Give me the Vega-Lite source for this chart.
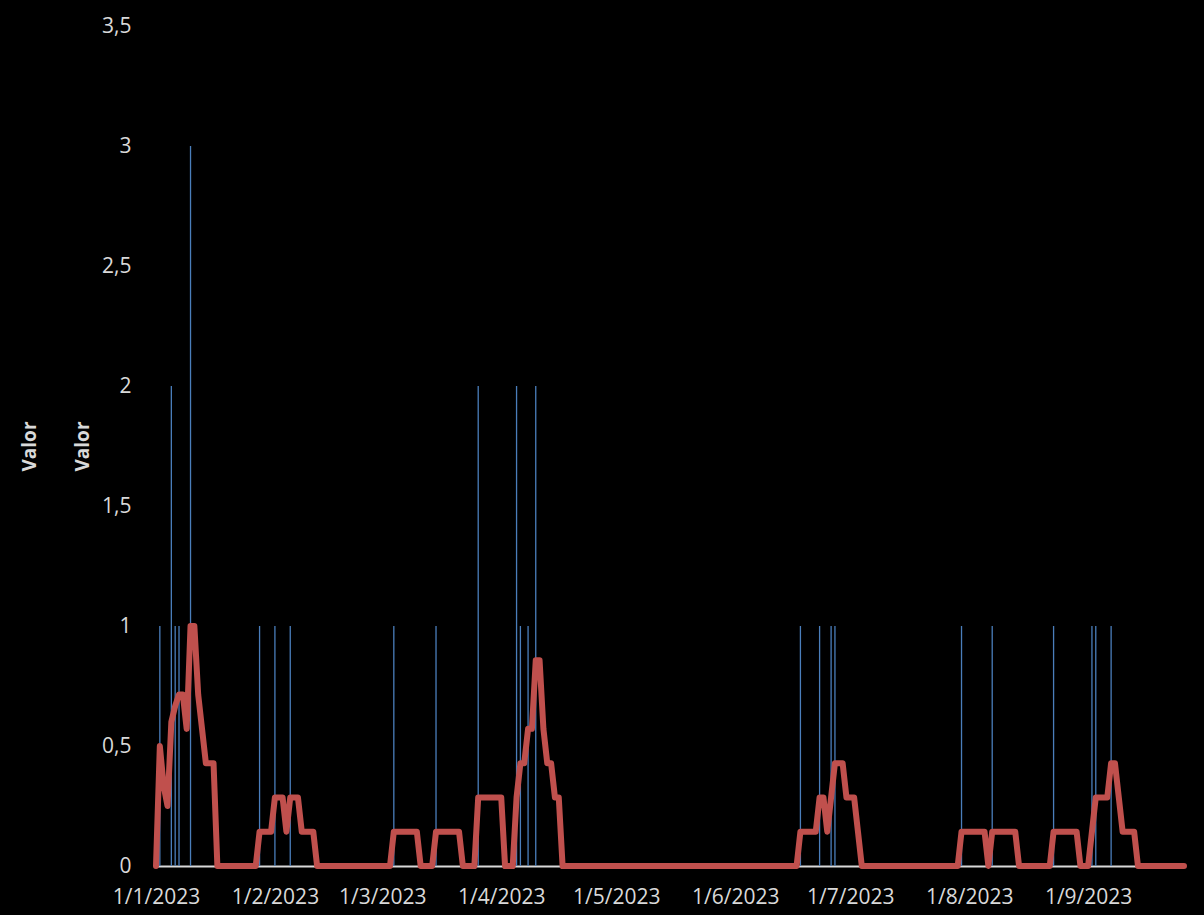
{
  "$schema": "https://vega.github.io/schema/vega-lite/v6.json",
  "background": "black",
  "autosize": {"type": "none"},
  "padding": {"left": 156, "top": 26, "right": 20, "bottom": 49},
  "width": 1028,
  "height": 840,
  "config": {
    "view": {"stroke": null},
    "font": "Open Sans",
    "axis": {"grid": false, "ticks": false, "tickSize": 0, "labelColor": "#d9d9d9", "labelFont": "Open Sans", "labelFontSize": 21, "titleColor": "#d9d9d9", "titleFont": "Open Sans", "titleFontSize": 19, "titleFontWeight": "bold"}
  },
  "datasets": {
    "spikes": [
      {"d": "2023-01-02", "v": 1},
      {"d": "2023-01-05", "v": 2},
      {"d": "2023-01-06", "v": 1},
      {"d": "2023-01-07", "v": 1},
      {"d": "2023-01-10", "v": 3},
      {"d": "2023-01-28", "v": 1},
      {"d": "2023-02-01", "v": 1},
      {"d": "2023-02-05", "v": 1},
      {"d": "2023-03-04", "v": 1},
      {"d": "2023-03-15", "v": 1},
      {"d": "2023-03-26", "v": 2},
      {"d": "2023-04-05", "v": 2},
      {"d": "2023-04-06", "v": 1},
      {"d": "2023-04-08", "v": 1},
      {"d": "2023-04-10", "v": 2},
      {"d": "2023-06-18", "v": 1},
      {"d": "2023-06-23", "v": 1},
      {"d": "2023-06-26", "v": 1},
      {"d": "2023-06-27", "v": 1},
      {"d": "2023-07-30", "v": 1},
      {"d": "2023-08-07", "v": 1},
      {"d": "2023-08-23", "v": 1},
      {"d": "2023-09-02", "v": 1},
      {"d": "2023-09-03", "v": 1},
      {"d": "2023-09-07", "v": 1}
    ],
    "media": [
      {"d":"2023-01-01","m":0},{"d":"2023-01-02","m":0.5},{"d":"2023-01-03","m":0.3333},{"d":"2023-01-04","m":0.25},{"d":"2023-01-05","m":0.6},{"d":"2023-01-06","m":0.6667},{"d":"2023-01-07","m":0.7143},{"d":"2023-01-08","m":0.7143},{"d":"2023-01-09","m":0.5714},{"d":"2023-01-10","m":1},{"d":"2023-01-11","m":1},{"d":"2023-01-12","m":0.7143},{"d":"2023-01-13","m":0.5714},{"d":"2023-01-14","m":0.4286},{"d":"2023-01-15","m":0.4286},{"d":"2023-01-16","m":0.4286},
      {"d":"2023-01-17","m":0},{"d":"2023-01-18","m":0},{"d":"2023-01-19","m":0},{"d":"2023-01-20","m":0},{"d":"2023-01-21","m":0},{"d":"2023-01-22","m":0},{"d":"2023-01-23","m":0},{"d":"2023-01-24","m":0},{"d":"2023-01-25","m":0},{"d":"2023-01-26","m":0},{"d":"2023-01-27","m":0},
      {"d":"2023-01-28","m":0.1429},{"d":"2023-01-29","m":0.1429},{"d":"2023-01-30","m":0.1429},{"d":"2023-01-31","m":0.1429},
      {"d":"2023-02-01","m":0.2857},{"d":"2023-02-02","m":0.2857},{"d":"2023-02-03","m":0.2857},{"d":"2023-02-04","m":0.1429},{"d":"2023-02-05","m":0.2857},{"d":"2023-02-06","m":0.2857},{"d":"2023-02-07","m":0.2857},{"d":"2023-02-08","m":0.1429},{"d":"2023-02-09","m":0.1429},{"d":"2023-02-10","m":0.1429},{"d":"2023-02-11","m":0.1429},
      {"d":"2023-02-12","m":0},{"d":"2023-02-13","m":0},{"d":"2023-02-14","m":0},{"d":"2023-02-15","m":0},{"d":"2023-02-16","m":0},{"d":"2023-02-17","m":0},{"d":"2023-02-18","m":0},{"d":"2023-02-19","m":0},{"d":"2023-02-20","m":0},{"d":"2023-02-21","m":0},{"d":"2023-02-22","m":0},{"d":"2023-02-23","m":0},{"d":"2023-02-24","m":0},{"d":"2023-02-25","m":0},{"d":"2023-02-26","m":0},{"d":"2023-02-27","m":0},{"d":"2023-02-28","m":0},
      {"d":"2023-03-01","m":0},{"d":"2023-03-02","m":0},{"d":"2023-03-03","m":0},
      {"d":"2023-03-04","m":0.1429},{"d":"2023-03-05","m":0.1429},{"d":"2023-03-06","m":0.1429},{"d":"2023-03-07","m":0.1429},{"d":"2023-03-08","m":0.1429},{"d":"2023-03-09","m":0.1429},{"d":"2023-03-10","m":0.1429},
      {"d":"2023-03-11","m":0},{"d":"2023-03-12","m":0},{"d":"2023-03-13","m":0},{"d":"2023-03-14","m":0},
      {"d":"2023-03-15","m":0.1429},{"d":"2023-03-16","m":0.1429},{"d":"2023-03-17","m":0.1429},{"d":"2023-03-18","m":0.1429},{"d":"2023-03-19","m":0.1429},{"d":"2023-03-20","m":0.1429},{"d":"2023-03-21","m":0.1429},
      {"d":"2023-03-22","m":0},{"d":"2023-03-23","m":0},{"d":"2023-03-24","m":0},{"d":"2023-03-25","m":0},
      {"d":"2023-03-26","m":0.2857},{"d":"2023-03-27","m":0.2857},{"d":"2023-03-28","m":0.2857},{"d":"2023-03-29","m":0.2857},{"d":"2023-03-30","m":0.2857},{"d":"2023-03-31","m":0.2857},{"d":"2023-04-01","m":0.2857},
      {"d":"2023-04-02","m":0},{"d":"2023-04-03","m":0},{"d":"2023-04-04","m":0},
      {"d":"2023-04-05","m":0.2857},{"d":"2023-04-06","m":0.4286},{"d":"2023-04-07","m":0.4286},{"d":"2023-04-08","m":0.5714},{"d":"2023-04-09","m":0.5714},{"d":"2023-04-10","m":0.8571},{"d":"2023-04-11","m":0.8571},{"d":"2023-04-12","m":0.5714},{"d":"2023-04-13","m":0.4286},{"d":"2023-04-14","m":0.4286},{"d":"2023-04-15","m":0.2857},{"d":"2023-04-16","m":0.2857},
      {"d":"2023-04-17","m":0},{"d":"2023-04-18","m":0},{"d":"2023-04-19","m":0},{"d":"2023-04-20","m":0},{"d":"2023-04-21","m":0},{"d":"2023-04-22","m":0},{"d":"2023-04-23","m":0},{"d":"2023-04-24","m":0},{"d":"2023-04-25","m":0},{"d":"2023-04-26","m":0},{"d":"2023-04-27","m":0},{"d":"2023-04-28","m":0},{"d":"2023-04-29","m":0},{"d":"2023-04-30","m":0},
      {"d":"2023-05-01","m":0},{"d":"2023-05-02","m":0},{"d":"2023-05-03","m":0},{"d":"2023-05-04","m":0},{"d":"2023-05-05","m":0},{"d":"2023-05-06","m":0},{"d":"2023-05-07","m":0},{"d":"2023-05-08","m":0},{"d":"2023-05-09","m":0},{"d":"2023-05-10","m":0},{"d":"2023-05-11","m":0},{"d":"2023-05-12","m":0},{"d":"2023-05-13","m":0},{"d":"2023-05-14","m":0},{"d":"2023-05-15","m":0},{"d":"2023-05-16","m":0},{"d":"2023-05-17","m":0},{"d":"2023-05-18","m":0},{"d":"2023-05-19","m":0},{"d":"2023-05-20","m":0},{"d":"2023-05-21","m":0},{"d":"2023-05-22","m":0},{"d":"2023-05-23","m":0},{"d":"2023-05-24","m":0},{"d":"2023-05-25","m":0},{"d":"2023-05-26","m":0},{"d":"2023-05-27","m":0},{"d":"2023-05-28","m":0},{"d":"2023-05-29","m":0},{"d":"2023-05-30","m":0},{"d":"2023-05-31","m":0},
      {"d":"2023-06-01","m":0},{"d":"2023-06-02","m":0},{"d":"2023-06-03","m":0},{"d":"2023-06-04","m":0},{"d":"2023-06-05","m":0},{"d":"2023-06-06","m":0},{"d":"2023-06-07","m":0},{"d":"2023-06-08","m":0},{"d":"2023-06-09","m":0},{"d":"2023-06-10","m":0},{"d":"2023-06-11","m":0},{"d":"2023-06-12","m":0},{"d":"2023-06-13","m":0},{"d":"2023-06-14","m":0},{"d":"2023-06-15","m":0},{"d":"2023-06-16","m":0},{"d":"2023-06-17","m":0},
      {"d":"2023-06-18","m":0.1429},{"d":"2023-06-19","m":0.1429},{"d":"2023-06-20","m":0.1429},{"d":"2023-06-21","m":0.1429},{"d":"2023-06-22","m":0.1429},{"d":"2023-06-23","m":0.2857},{"d":"2023-06-24","m":0.2857},{"d":"2023-06-25","m":0.1429},{"d":"2023-06-26","m":0.2857},{"d":"2023-06-27","m":0.4286},{"d":"2023-06-28","m":0.4286},{"d":"2023-06-29","m":0.4286},{"d":"2023-06-30","m":0.2857},
      {"d":"2023-07-01","m":0.2857},{"d":"2023-07-02","m":0.2857},{"d":"2023-07-03","m":0.1429},
      {"d":"2023-07-04","m":0},{"d":"2023-07-05","m":0},{"d":"2023-07-06","m":0},{"d":"2023-07-07","m":0},{"d":"2023-07-08","m":0},{"d":"2023-07-09","m":0},{"d":"2023-07-10","m":0},{"d":"2023-07-11","m":0},{"d":"2023-07-12","m":0},{"d":"2023-07-13","m":0},{"d":"2023-07-14","m":0},{"d":"2023-07-15","m":0},{"d":"2023-07-16","m":0},{"d":"2023-07-17","m":0},{"d":"2023-07-18","m":0},{"d":"2023-07-19","m":0},{"d":"2023-07-20","m":0},{"d":"2023-07-21","m":0},{"d":"2023-07-22","m":0},{"d":"2023-07-23","m":0},{"d":"2023-07-24","m":0},{"d":"2023-07-25","m":0},{"d":"2023-07-26","m":0},{"d":"2023-07-27","m":0},{"d":"2023-07-28","m":0},{"d":"2023-07-29","m":0},
      {"d":"2023-07-30","m":0.1429},{"d":"2023-07-31","m":0.1429},{"d":"2023-08-01","m":0.1429},{"d":"2023-08-02","m":0.1429},{"d":"2023-08-03","m":0.1429},{"d":"2023-08-04","m":0.1429},{"d":"2023-08-05","m":0.1429},
      {"d":"2023-08-06","m":0},
      {"d":"2023-08-07","m":0.1429},{"d":"2023-08-08","m":0.1429},{"d":"2023-08-09","m":0.1429},{"d":"2023-08-10","m":0.1429},{"d":"2023-08-11","m":0.1429},{"d":"2023-08-12","m":0.1429},{"d":"2023-08-13","m":0.1429},
      {"d":"2023-08-14","m":0},{"d":"2023-08-15","m":0},{"d":"2023-08-16","m":0},{"d":"2023-08-17","m":0},{"d":"2023-08-18","m":0},{"d":"2023-08-19","m":0},{"d":"2023-08-20","m":0},{"d":"2023-08-21","m":0},{"d":"2023-08-22","m":0},
      {"d":"2023-08-23","m":0.1429},{"d":"2023-08-24","m":0.1429},{"d":"2023-08-25","m":0.1429},{"d":"2023-08-26","m":0.1429},{"d":"2023-08-27","m":0.1429},{"d":"2023-08-28","m":0.1429},{"d":"2023-08-29","m":0.1429},
      {"d":"2023-08-30","m":0},{"d":"2023-08-31","m":0},{"d":"2023-09-01","m":0},
      {"d":"2023-09-02","m":0.1429},{"d":"2023-09-03","m":0.2857},{"d":"2023-09-04","m":0.2857},{"d":"2023-09-05","m":0.2857},{"d":"2023-09-06","m":0.2857},{"d":"2023-09-07","m":0.4286},{"d":"2023-09-08","m":0.4286},{"d":"2023-09-09","m":0.2857},{"d":"2023-09-10","m":0.1429},{"d":"2023-09-11","m":0.1429},{"d":"2023-09-12","m":0.1429},{"d":"2023-09-13","m":0.1429},
      {"d":"2023-09-14","m":0},{"d":"2023-09-15","m":0},{"d":"2023-09-16","m":0},{"d":"2023-09-17","m":0},{"d":"2023-09-18","m":0},{"d":"2023-09-19","m":0},{"d":"2023-09-20","m":0},{"d":"2023-09-21","m":0},{"d":"2023-09-22","m":0},{"d":"2023-09-23","m":0},{"d":"2023-09-24","m":0},{"d":"2023-09-25","m":0},{"d":"2023-09-26","m":0}
    ]
  },
  "resolve": {"axis": {"y": "independent"}},
  "layer": [
    {
      "data": {"name": "spikes"},
      "mark": {"type": "rule", "color": "#4a7ebb", "strokeWidth": 1.3},
      "encoding": {
        "x": {
          "field": "d", "type": "temporal",
          "scale": {"type": "utc", "domain": [{"year": 2023, "month": 1, "date": 1, "utc": true}, {"year": 2023, "month": 9, "date": 26, "utc": true}]},
          "axis": {"title": null, "format": "%-d/%-m/%Y", "tickCount": {"interval": "month", "step": 1}, "domain": true, "domainColor": "#d9d9d9", "domainWidth": 2, "labelPadding": 20, "labelFlush": false, "labelBound": false, "labelOverlap": false}
        },
        "y": {
          "field": "v", "type": "quantitative",
          "scale": {"domain": [0, 3.5], "nice": false},
          "axis": {"orient": "left", "title": "Valor", "values": [0, 0.5, 1, 1.5, 2, 2.5, 3, 3.5], "labelExpr": "replace(format(datum.value, '.1~f'), '.', ',')", "domain": false, "labelPadding": 25, "titlePadding": 62}
        },
        "y2": {"datum": 0}
      }
    },
    {
      "data": {"name": "media"},
      "mark": {"type": "line", "color": "#c0504d", "strokeWidth": 6, "strokeJoin": "round", "strokeCap": "round"},
      "encoding": {
        "x": {"field": "d", "type": "temporal"},
        "y": {
          "field": "m", "type": "quantitative",
          "axis": {"orient": "left", "title": "Valor", "labels": false, "domain": false, "ticks": false, "titlePadding": 64}
        }
      }
    }
  ]
}
